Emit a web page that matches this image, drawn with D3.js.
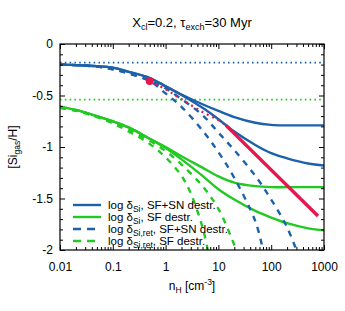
<!DOCTYPE html>
<html>
<head>
<meta charset="utf-8">
<script src="https://cdn.jsdelivr.net/npm/d3@7"></script>
<style>
body{margin:0;background:#fff;}
svg{display:block;font-family:"Liberation Sans",Arial,Helvetica,sans-serif;}
</style>
</head>
<body>
<svg id="chart" width="345" height="311"></svg>
<script>
// ---- data ----
const xMajorTicks = [0.01, 0.1, 1, 10, 100, 1000];
const xTickLabels = ["0.01", "0.1", "1", "10", "100", "1000"];
const yMajorTicks = [0, -0.5, -1, -1.5, -2];
const yTickLabels = ["0", "-0.5", "-1", "-1.5", "-2"];

const nGrid = [0.01,0.02,0.05,0.1,0.2,0.5,1,2,5,10,20,50,100,200,500,1000];
const blueSolidUpper = [-0.20,-0.205,-0.215,-0.23,-0.27,-0.33,-0.41,-0.49,-0.585,-0.65,-0.71,-0.765,-0.785,-0.79,-0.79,-0.79];
const blueSolidLower = [-0.20,-0.205,-0.215,-0.23,-0.27,-0.33,-0.41,-0.495,-0.62,-0.73,-0.85,-0.98,-1.06,-1.11,-1.16,-1.18];
const greenSolidUpper = [-0.61,-0.64,-0.70,-0.75,-0.81,-0.92,-1.00,-1.09,-1.20,-1.285,-1.345,-1.38,-1.39,-1.39,-1.39,-1.39];
const greenSolidLower = [-0.61,-0.64,-0.70,-0.75,-0.81,-0.92,-1.01,-1.12,-1.28,-1.41,-1.51,-1.62,-1.685,-1.74,-1.79,-1.81];

const blueDashA_n = [0.01,0.02,0.05,0.1,0.2,0.5,1,2,5,10,20,50,70];
const blueDashA_v = [-0.20,-0.205,-0.22,-0.245,-0.285,-0.36,-0.48,-0.61,-0.84,-1.05,-1.30,-1.72,-2.0];
const blueDashB_n = [0.01,0.02,0.05,0.1,0.2,0.5,1,2,5,10,20,50,100,200,300];
const blueDashB_v = [-0.20,-0.205,-0.22,-0.245,-0.285,-0.355,-0.43,-0.535,-0.69,-0.86,-1.03,-1.28,-1.51,-1.78,-2.0];

const greenDashA_n = [0.01,0.02,0.05,0.1,0.2,0.5,1,2,3,5,6.3];
const greenDashA_v = [-0.62,-0.65,-0.71,-0.77,-0.85,-0.97,-1.10,-1.28,-1.45,-1.78,-2.0];
const greenDashB_n = [0.01,0.02,0.05,0.1,0.2,0.5,1,2,5,10,20,22];
const greenDashB_v = [-0.62,-0.645,-0.70,-0.76,-0.83,-0.94,-1.04,-1.17,-1.38,-1.60,-1.95,-2.0];

const redDotted_n = [0.5,1,2,5,10,13.9];
const redDotted_v = [-0.36,-0.44,-0.535,-0.66,-0.74,-0.79];
const redSolid_n = [13.9,770];
const redSolid_v = [-0.79,-1.67];
const redPoint = {n:0.5, v:-0.36};

const blueLevel = -0.18;
const greenLevel = -0.54;

const legendItems = [
  {main:"log δ", sub:"Si", rest:", SF+SN destr.", kind:"blueSolid"},
  {main:"log δ", sub:"Si", rest:", SF destr.", kind:"greenSolid"},
  {main:"log δ", sub:"Si,ret", rest:", SF+SN destr.", kind:"blueDash"},
  {main:"log δ", sub:"Si,ret", rest:", SF destr.", kind:"greenDash"}
];

// ---- styles ----
const BLUE = "#1c62a9", GREEN = "#22c922", RED = "#e5174c";
const styles = {
  blueSolid:{stroke:BLUE, width:2.4, dash:null},
  greenSolid:{stroke:GREEN, width:2.4, dash:null},
  blueDash:{stroke:BLUE, width:2.4, dash:"6,6"},
  greenDash:{stroke:GREEN, width:2.4, dash:"6,6"},
  redSolid:{stroke:RED, width:3.4, dash:null},
  redDot:{stroke:RED, width:2.2, dash:"2,4"}
};

const L = 60, R = 324, T = 44, B = 250;
const svg = d3.select("#chart");
const x = d3.scaleLog().domain([0.01,1000]).range([L,R]);
const y = d3.scaleLinear().domain([-2,0]).range([B,T]);

svg.append("defs").append("clipPath").attr("id","clip")
  .append("rect").attr("x",L).attr("y",T).attr("width",R-L).attr("height",B-T);

const g = svg.append("g").attr("clip-path","url(#clip)");
const line = d3.line().x(d=>x(d[0])).y(d=>y(d[1])).curve(d3.curveCatmullRom.alpha(0.5));
function zip(ns, vs){ return ns.map((n,i)=>[n,vs[i]]); }
function draw(data, st){
  const p = g.append("path").datum(data).attr("d",line)
    .attr("fill","none").attr("stroke",st.stroke).attr("stroke-width",st.width)
    .attr("stroke-linejoin","round");
  if(st.dash) p.attr("stroke-dasharray",st.dash);
  return p;
}

// horizontal dotted reference levels
[[blueLevel,BLUE],[greenLevel,GREEN]].forEach(([v,c])=>{
  g.append("line").attr("x1",x(0.01)).attr("x2",x(1000)).attr("y1",y(v)).attr("y2",y(v))
    .attr("stroke",c).attr("stroke-width",1.8).attr("stroke-dasharray","1.6,3.2");
});

draw(zip(greenDashA_n,greenDashA_v), styles.greenDash);
draw(zip(greenDashB_n,greenDashB_v), styles.greenDash);
draw(zip(nGrid,greenSolidUpper), styles.greenSolid);
draw(zip(nGrid,greenSolidLower), styles.greenSolid);
draw(zip(blueDashA_n,blueDashA_v), styles.blueDash);
draw(zip(blueDashB_n,blueDashB_v), styles.blueDash);
draw(zip(nGrid,blueSolidUpper), styles.blueSolid);
draw(zip(nGrid,blueSolidLower), styles.blueSolid);
draw(zip(redDotted_n,redDotted_v), styles.redDot);
g.append("path").datum(zip(redSolid_n,redSolid_v)).attr("d",d3.line().x(d=>x(d[0])).y(d=>y(d[1])))
  .attr("fill","none").attr("stroke",RED).attr("stroke-width",styles.redSolid.width);
g.append("circle").attr("cx",x(redPoint.n)).attr("cy",y(redPoint.v)).attr("r",4).attr("fill",RED);

// ---- axes ----
const xMinor = [];
for(let d=0.01; d<1000; d*=10){ for(let k=2;k<=9;k++) xMinor.push(+(d*k).toPrecision(3)); }
const yMinor = d3.range(-20,1).map(i=>i/10).filter(v=>Math.abs(v*2-Math.round(v*2))>1e-6);

function axisStyle(sel){
  sel.select(".domain").remove();
  sel.selectAll("line").attr("stroke","#000").attr("stroke-width",1);
  sel.selectAll("text").attr("font-size",12).attr("fill","#000");
}
// bottom
svg.append("g").attr("transform",`translate(0,${B})`)
  .call(d3.axisBottom(x).tickValues(xMajorTicks).tickSize(-5).tickPadding(12)
    .tickFormat((d,i)=>xTickLabels[i])).call(axisStyle);
svg.append("g").attr("transform",`translate(0,${B})`)
  .call(d3.axisBottom(x).tickValues(xMinor).tickSize(-3).tickFormat("")).call(axisStyle);
// top
svg.append("g").attr("transform",`translate(0,${T})`)
  .call(d3.axisTop(x).tickValues(xMajorTicks).tickSize(-5).tickFormat("")).call(axisStyle);
svg.append("g").attr("transform",`translate(0,${T})`)
  .call(d3.axisTop(x).tickValues(xMinor).tickSize(-3).tickFormat("")).call(axisStyle);
// left
svg.append("g").attr("transform",`translate(${L},0)`)
  .call(d3.axisLeft(y).tickValues(yMajorTicks).tickSize(-5).tickPadding(7)
    .tickFormat((d,i)=>yTickLabels[i])).call(axisStyle);
svg.append("g").attr("transform",`translate(${L},0)`)
  .call(d3.axisLeft(y).tickValues(yMinor).tickSize(-3).tickFormat("")).call(axisStyle);
// right
svg.append("g").attr("transform",`translate(${R},0)`)
  .call(d3.axisRight(y).tickValues(yMajorTicks).tickSize(-5).tickFormat("")).call(axisStyle);
svg.append("g").attr("transform",`translate(${R},0)`)
  .call(d3.axisRight(y).tickValues(yMinor).tickSize(-3).tickFormat("")).call(axisStyle);

svg.append("rect").attr("x",L).attr("y",T).attr("width",R-L).attr("height",B-T)
  .attr("fill","none").attr("stroke","#000").attr("stroke-width",1.2);

// ---- legend ----
const lg = svg.append("g");
legendItems.forEach((it,i)=>{
  const yy = 205 + i*12;
  const st = styles[it.kind];
  const ln = lg.append("line").attr("x1",73).attr("x2",101).attr("y1",yy).attr("y2",yy)
    .attr("stroke",st.stroke).attr("stroke-width",st.width);
  if(st.dash) ln.attr("stroke-dasharray","8,6");
  const t = lg.append("text").attr("x",108).attr("y",yy+4).attr("font-size",11.5).attr("fill","#000");
  t.append("tspan").text(it.main);
  t.append("tspan").attr("font-size",8.5).attr("dy",3).text(it.sub);
  t.append("tspan").attr("dy",-3).text(it.rest);
});

// ---- titles ----
const title = svg.append("text").attr("x",192).attr("y",27).attr("text-anchor","middle")
  .attr("font-size",13).attr("fill","#000");
title.append("tspan").text("X");
title.append("tspan").attr("font-size",9).attr("dy",3).text("cl");
title.append("tspan").attr("dy",-3).text("=0.2, τ");
title.append("tspan").attr("font-size",9).attr("dy",3).text("exch");
title.append("tspan").attr("dy",-3).text("=30 Myr");

const xl = svg.append("text").attr("x",192).attr("y",290).attr("text-anchor","middle")
  .attr("font-size",12).attr("fill","#000");
xl.append("tspan").text("n");
xl.append("tspan").attr("font-size",8.5).attr("dy",3).text("H");
xl.append("tspan").attr("dy",-3).text(" [cm");
xl.append("tspan").attr("font-size",8.5).attr("dy",-5).text("-3");
xl.append("tspan").attr("dy",5).text("]");

const yl = svg.append("text").attr("transform","translate(17,147) rotate(-90)")
  .attr("text-anchor","middle").attr("font-size",12).attr("fill","#000");
yl.append("tspan").text("[Si");
yl.append("tspan").attr("font-size",8.5).attr("dy",3).text("gas");
yl.append("tspan").attr("dy",-3).text("/H]");
</script>
</body>
</html>
